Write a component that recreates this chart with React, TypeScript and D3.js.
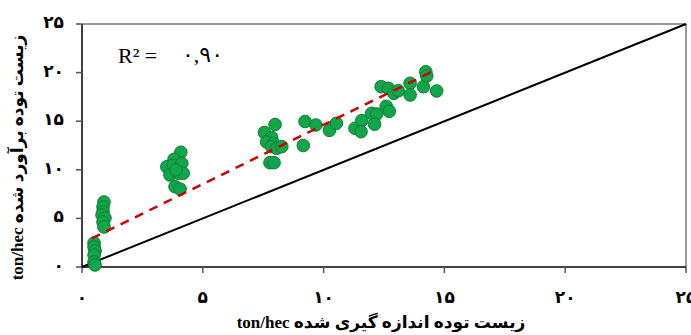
import React from "react";
import * as d3 from "d3";

const measured: number[] = [
  0.91, 0.87, 0.87, 0.83, 0.95, 0.87, 0.91,
  0.5, 0.5, 0.54, 0.5, 0.5, 0.54,
  4.09, 3.81, 3.51, 3.78, 4.13, 3.64, 3.99, 4.19, 3.85, 4.06, 3.89,
  7.99, 7.55, 7.85, 7.64, 7.92, 7.85, 8.06, 8.27, 7.78, 7.95,
  9.16, 9.23, 9.68, 10.24, 10.53, 11.3, 11.58, 11.55, 11.99, 12.2, 12.11, 12.59, 12.72,
  12.38, 12.68, 12.91, 13.09, 13.58, 13.58, 14.13, 14.23, 14.27, 14.68,
];
const estimated: number[] = [
  6.69, 6.17, 5.66, 5.35, 5.04, 4.63, 4.12,
  2.47, 2.06, 1.65, 1.23, 0.51, 0.21,
  11.8, 11.08, 10.32, 10.49, 10.67, 9.47, 9.64, 9.64, 8.26, 8.02, 9.98,
  14.66, 13.84, 13.32, 12.86, 12.73, 12.38, 12.21, 12.38, 10.73, 10.73,
  12.5, 14.97, 14.61, 14.06, 14.78, 14.27, 15.07, 13.92, 15.81, 15.74, 14.69, 16.53, 16.02,
  18.55, 18.38, 17.87, 18.14, 18.9, 17.7, 18.55, 20.09, 19.65, 18.11,
];
const trendX: number[] = [0.41, 14.69];
const trendY: number[] = [2.94, 20.34];
const identity: number[] = [0, 25];
const tickValues: number[] = [0, 5, 10, 15, 20, 25];
const tickLabels: string[] = ["۰", "۵", "۱۰", "۱۵", "۲۰", "۲۵"];
const r2Prefix = "R² = ";
const r2Value = "۰,۹۰";
const xTitle = "زیست توده اندازه گیری شده ton/hec";
const yTitle = "زیست توده برآورد شده ton/hec";

export default function App() {
  const W = 691, H = 335;
  const x = d3.scaleLinear().domain([0, 25]).range([82, 686]);
  const y = d3.scaleLinear().domain([0, 25]).range([267, 24]);
  const font = "'Liberation Serif', 'DejaVu Sans', serif";
  const line = d3.line<[number, number]>().x((d) => x(d[0])).y((d) => y(d[1]));
  const pts = measured.map((m, i) => [m, estimated[i]] as [number, number]);
  return (
    <svg width={W} height={H} style={{ position: "absolute", left: 0, top: 0, background: "#fff" }}>
      {/* frame */}
      <line x1={x(0)} x2={x(25)} y1={y(25)} y2={y(25)} stroke="#777" strokeWidth={1.5} />
      <line x1={x(25)} x2={x(25)} y1={y(25)} y2={y(0)} stroke="#777" strokeWidth={1.5} />
      {/* axes */}
      <line x1={x(0)} x2={x(25)} y1={y(0)} y2={y(0)} stroke="#000" strokeWidth={1.5} />
      <line x1={x(0)} x2={x(0)} y1={y(0)} y2={y(25)} stroke="#000" strokeWidth={1.5} />
      {tickValues.map((t, i) => (
        <g key={"x" + i}>
          <line x1={x(t)} x2={x(t)} y1={y(0)} y2={y(0) + 6} stroke="#555" strokeWidth={1.5} />
          <text x={x(t)} y={303} textAnchor="middle" fontFamily={font} fontWeight="bold" fontSize={17}>
            {tickLabels[i]}
          </text>
        </g>
      ))}
      {tickValues.map((t, i) => (
        <g key={"y" + i}>
          <line x1={x(0) - 6} x2={x(0)} y1={y(t)} y2={y(t)} stroke="#555" strokeWidth={1.5} />
          <text x={64} y={y(t) + 4} textAnchor="end" fontFamily={font} fontWeight="bold" fontSize={17}>
            {tickLabels[i]}
          </text>
        </g>
      ))}
      {/* 1:1 line */}
      <path d={line(identity.map((v) => [v, v]) as [number, number][]) || ""} stroke="#000" strokeWidth={2} fill="none" />
      {/* points */}
      {pts.map((p, i) => (
        <circle key={i} cx={x(p[0])} cy={y(p[1])} r={6.3} fill="#12a64a" stroke="#0e7d35" strokeWidth={1} />
      ))}
      {/* trend line */}
      <path
        d={line(trendX.map((v, i) => [v, trendY[i]]) as [number, number][]) || ""}
        stroke="#cc0000"
        strokeWidth={2.5}
        strokeDasharray="9,7"
        fill="none"
      />
      <text x={118} y={63} fontFamily={font} fontSize={22}>
        {r2Prefix}
      </text>
      <text x={182} y={62} fontFamily={font} fontSize={22} letterSpacing={3}>
        {r2Value}
      </text>
      <text x={381} y={328} textAnchor="middle" fontFamily={font} fontWeight="bold" fontSize={17} direction="rtl">
        {xTitle}
      </text>
      <text
        transform={`translate(23,${(y(0) + y(25)) / 2 + 12}) rotate(-90)`}
        textAnchor="middle"
        fontFamily={font}
        fontWeight="bold"
        fontSize={17}
        direction="rtl"
      >
        {yTitle}
      </text>
    </svg>
  );
}
